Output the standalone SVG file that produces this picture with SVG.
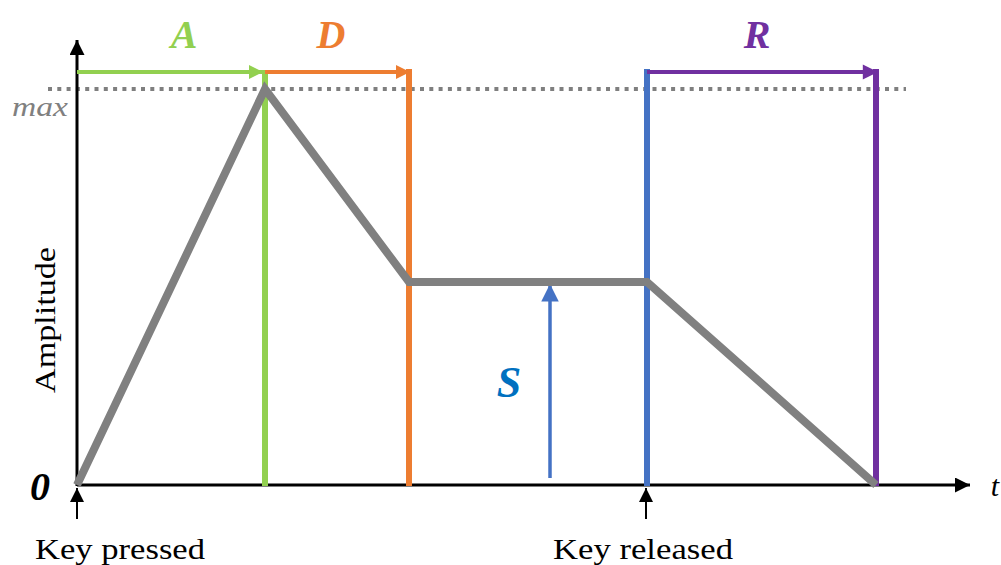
<svg xmlns="http://www.w3.org/2000/svg" width="1001" height="565" viewBox="0 0 1001 565">
  <style>
    .lbl { font-style: italic; font-weight: bold; }
    .axis { stroke: #000; stroke-width: 3; fill: none; }
    .phase { stroke-width: 6; fill: none; }
  </style>
  <defs>
    <marker id="ahBlack" viewBox="0 0 10 10" refX="10" refY="5" markerWidth="5" markerHeight="5" markerUnits="strokeWidth" orient="auto">
      <path d="M0,0 L10,5 L0,10 Z" fill="#000"/>
    </marker>
    <marker id="ahSmall" viewBox="0 0 10 10" refX="10" refY="5" markerWidth="7" markerHeight="7" markerUnits="strokeWidth" orient="auto">
      <path d="M0,0 L10,5 L0,10 Z" fill="#000"/>
    </marker>
    <marker id="ahGreen" viewBox="0 0 10 10" refX="10" refY="5" markerWidth="4" markerHeight="3.5" markerUnits="strokeWidth" orient="auto">
      <path d="M0,0 L10,5 L0,10 Z" fill="#92D050"/>
    </marker>
    <marker id="ahOrange" viewBox="0 0 10 10" refX="10" refY="5" markerWidth="4" markerHeight="3.5" markerUnits="strokeWidth" orient="auto">
      <path d="M0,0 L10,5 L0,10 Z" fill="#ED7D31"/>
    </marker>
    <marker id="ahPurple" viewBox="0 0 10 10" refX="10" refY="5" markerWidth="4.5" markerHeight="3.8" markerUnits="strokeWidth" orient="auto">
      <path d="M0,0 L10,5 L0,10 Z" fill="#7030A0"/>
    </marker>
    <marker id="ahBlue" viewBox="0 0 10 10" refX="10" refY="5" markerWidth="5" markerHeight="5" markerUnits="strokeWidth" orient="auto">
      <path d="M0,0 L10,5 L0,10 Z" fill="#4472C4"/>
    </marker>
  </defs>

  <!-- max level guide -->
  <line x1="48" y1="89" x2="906" y2="89" stroke="#7F7F7F" stroke-width="4" stroke-dasharray="4 5.3"/>

  <g id="connectors">
    <!-- axes -->
    <line class="axis" x1="77" y1="486" x2="77" y2="40" marker-end="url(#ahBlack)"/>
    <line class="axis" x1="77" y1="485" x2="970" y2="485" marker-end="url(#ahBlack)"/>

    <!-- phase boundaries -->
    <line class="phase" stroke="#92D050" x1="265" y1="70" x2="265" y2="486"/>
    <line class="phase" stroke="#ED7D31" x1="409" y1="69" x2="409" y2="486"/>
    <line class="phase" stroke="#4472C4" x1="647" y1="69" x2="647" y2="486"/>
    <line class="phase" stroke="#7030A0" x1="876" y1="69" x2="876" y2="486"/>

    <!-- phase duration arrows -->
    <line stroke="#92D050" stroke-width="4" x1="77" y1="72" x2="263" y2="72" marker-end="url(#ahGreen)"/>
    <line stroke="#ED7D31" stroke-width="4" x1="265" y1="72" x2="410" y2="72" marker-end="url(#ahOrange)"/>
    <line stroke="#7030A0" stroke-width="4" x1="647" y1="72" x2="878" y2="72" marker-end="url(#ahPurple)"/>

    <!-- sustain level arrow -->
    <line stroke="#4472C4" stroke-width="3.5" x1="550" y1="478" x2="550" y2="284" marker-end="url(#ahBlue)"/>

    <!-- envelope -->
    <polyline points="77,485 265,89 409,282 647,282 876,485" fill="none" stroke="#808080" stroke-width="8" stroke-linejoin="miter"/>

    <!-- key event markers -->
    <line stroke="#000" stroke-width="2" x1="77" y1="519" x2="77" y2="488" marker-end="url(#ahSmall)"/>
    <line stroke="#000" stroke-width="2" x1="646" y1="519" x2="646" y2="488" marker-end="url(#ahSmall)"/>
  </g>

  <g id="labels" font-family="Liberation Serif, Times New Roman, serif">
    <text class="lbl" x="184" y="48" font-size="40" fill="#92D050" text-anchor="middle">A</text>
    <text class="lbl" x="331" y="48" font-size="40" fill="#ED7D31" text-anchor="middle">D</text>
    <text class="lbl" x="757" y="48" font-size="40" fill="#7030A0" text-anchor="middle">R</text>
    <text class="lbl" x="509" y="397" font-size="44" fill="#0070C0" text-anchor="middle">S</text>
    <text class="lbl" x="40" y="500" font-size="40" fill="#000" text-anchor="middle">0</text>
    <text x="12" y="116" font-size="28" font-style="italic" fill="#808080" textLength="56" lengthAdjust="spacingAndGlyphs">max</text>
    <text x="995" y="496" font-size="30" font-style="italic" fill="#000" text-anchor="middle">t</text>
    <text transform="translate(55,393) rotate(-90)" font-size="30" fill="#000" textLength="146" lengthAdjust="spacingAndGlyphs">Amplitude</text>
    <text x="35" y="559" font-size="30" fill="#000" textLength="170" lengthAdjust="spacingAndGlyphs">Key pressed</text>
    <text x="553" y="559" font-size="30" fill="#000" textLength="180" lengthAdjust="spacingAndGlyphs">Key released</text>
  </g>
</svg>
